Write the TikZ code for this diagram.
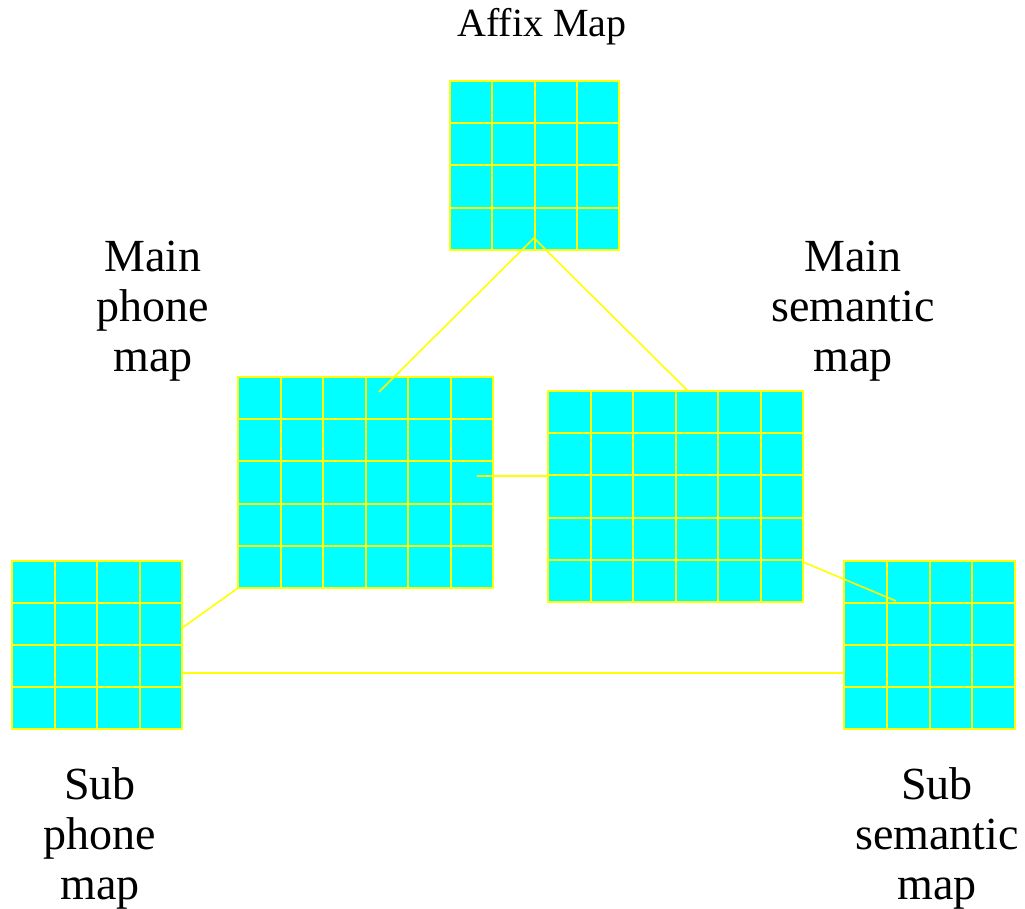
\documentclass[tikz,border=0pt]{standalone}
\usepackage{fontspec}
\setmainfont{Liberation Serif}
\definecolor{mapcyan}{RGB}{0,255,255}
\definecolor{mapyellow}{RGB}{255,255,0}
\tikzset{
  mapbox/.style={draw=mapyellow, fill=mapcyan, line width=2.6pt, inner sep=0pt, outer sep=0pt, rectangle, anchor=north west},
  gridline/.style={draw=mapyellow, line width=2pt},
  link/.style={draw=mapyellow, line width=1.6pt},
  biglabel/.style={font=\fontsize{46}{50}\selectfont, align=center, inner sep=0pt},
  smalllabel/.style={font=\fontsize{40}{44}\selectfont, inner sep=0pt},
}
% name, x, y (top-left), cols, rows, cell width, cell height
\newcommand\kohonenmap[7]{%
  \node[mapbox, minimum width={#4*#6pt}, minimum height={#5*#7pt}] (#1) at (#2,#3) {};
  \pgfmathtruncatemacro\lastcol{#4-1}%
  \pgfmathtruncatemacro\lastrow{#5-1}%
  \foreach \i in {1,...,\lastcol} {\draw[gridline] ({#2+\i*#6},#3) -- ({#2+\i*#6},{#3+#5*#7});}
  \foreach \j in {1,...,\lastrow} {\draw[gridline] (#2,{#3+\j*#7}) -- ({#2+#4*#6},{#3+\j*#7});}
}
\begin{document}
\begin{tikzpicture}[x=1pt, y=-1pt]
  \useasboundingbox (0,0) rectangle (1025,909);
  \fill[white] (0,0) rectangle (1025,909);

  \kohonenmap{affix}{450}{81}{4}{4}{42.25}{42.25}
  \kohonenmap{mphone}{238}{377}{6}{5}{42.5}{42.2}
  \kohonenmap{msem}{548}{391}{6}{5}{42.5}{42.2}
  \kohonenmap{sphone}{12}{561}{4}{4}{42.5}{42}
  \kohonenmap{ssem}{844}{561}{4}{4}{42.75}{42}

  \coordinate (affapex) at (534,238);
  \coordinate (mpin) at (379,392);
  \coordinate (mpout) at (477,476);
  \coordinate (sspin) at (896,601);

  \draw[link] (affapex) -- (mpin);
  \draw[link] (affapex) -- ([xshift=12.5pt]msem.north);
  \draw[link] (mpout) -- (mpout -| msem.west);
  \draw[link] ([yshift=17pt]sphone.east) -- (mphone.south west);
  \draw[link] ([yshift=-28pt]sphone.east) coordinate (spout) -- (spout -| ssem.west);
  \draw[link] ([yshift=40pt]msem.south east) -- (sspin);

  \node[smalllabel, anchor=base] (affixlabel) at (542,37) {Affix Map};
  \node[biglabel] (mplabel) at (153,311) {Main\\phone\\map};
  \node[biglabel] (mslabel) at (853,311) {Main\\semantic\\map};
  \node[biglabel] (splabel) at (100,838) {Sub\\phone\\map};
  \node[biglabel] (sslabel) at (937,838) {Sub\\semantic\\map};
\end{tikzpicture}
\end{document}
